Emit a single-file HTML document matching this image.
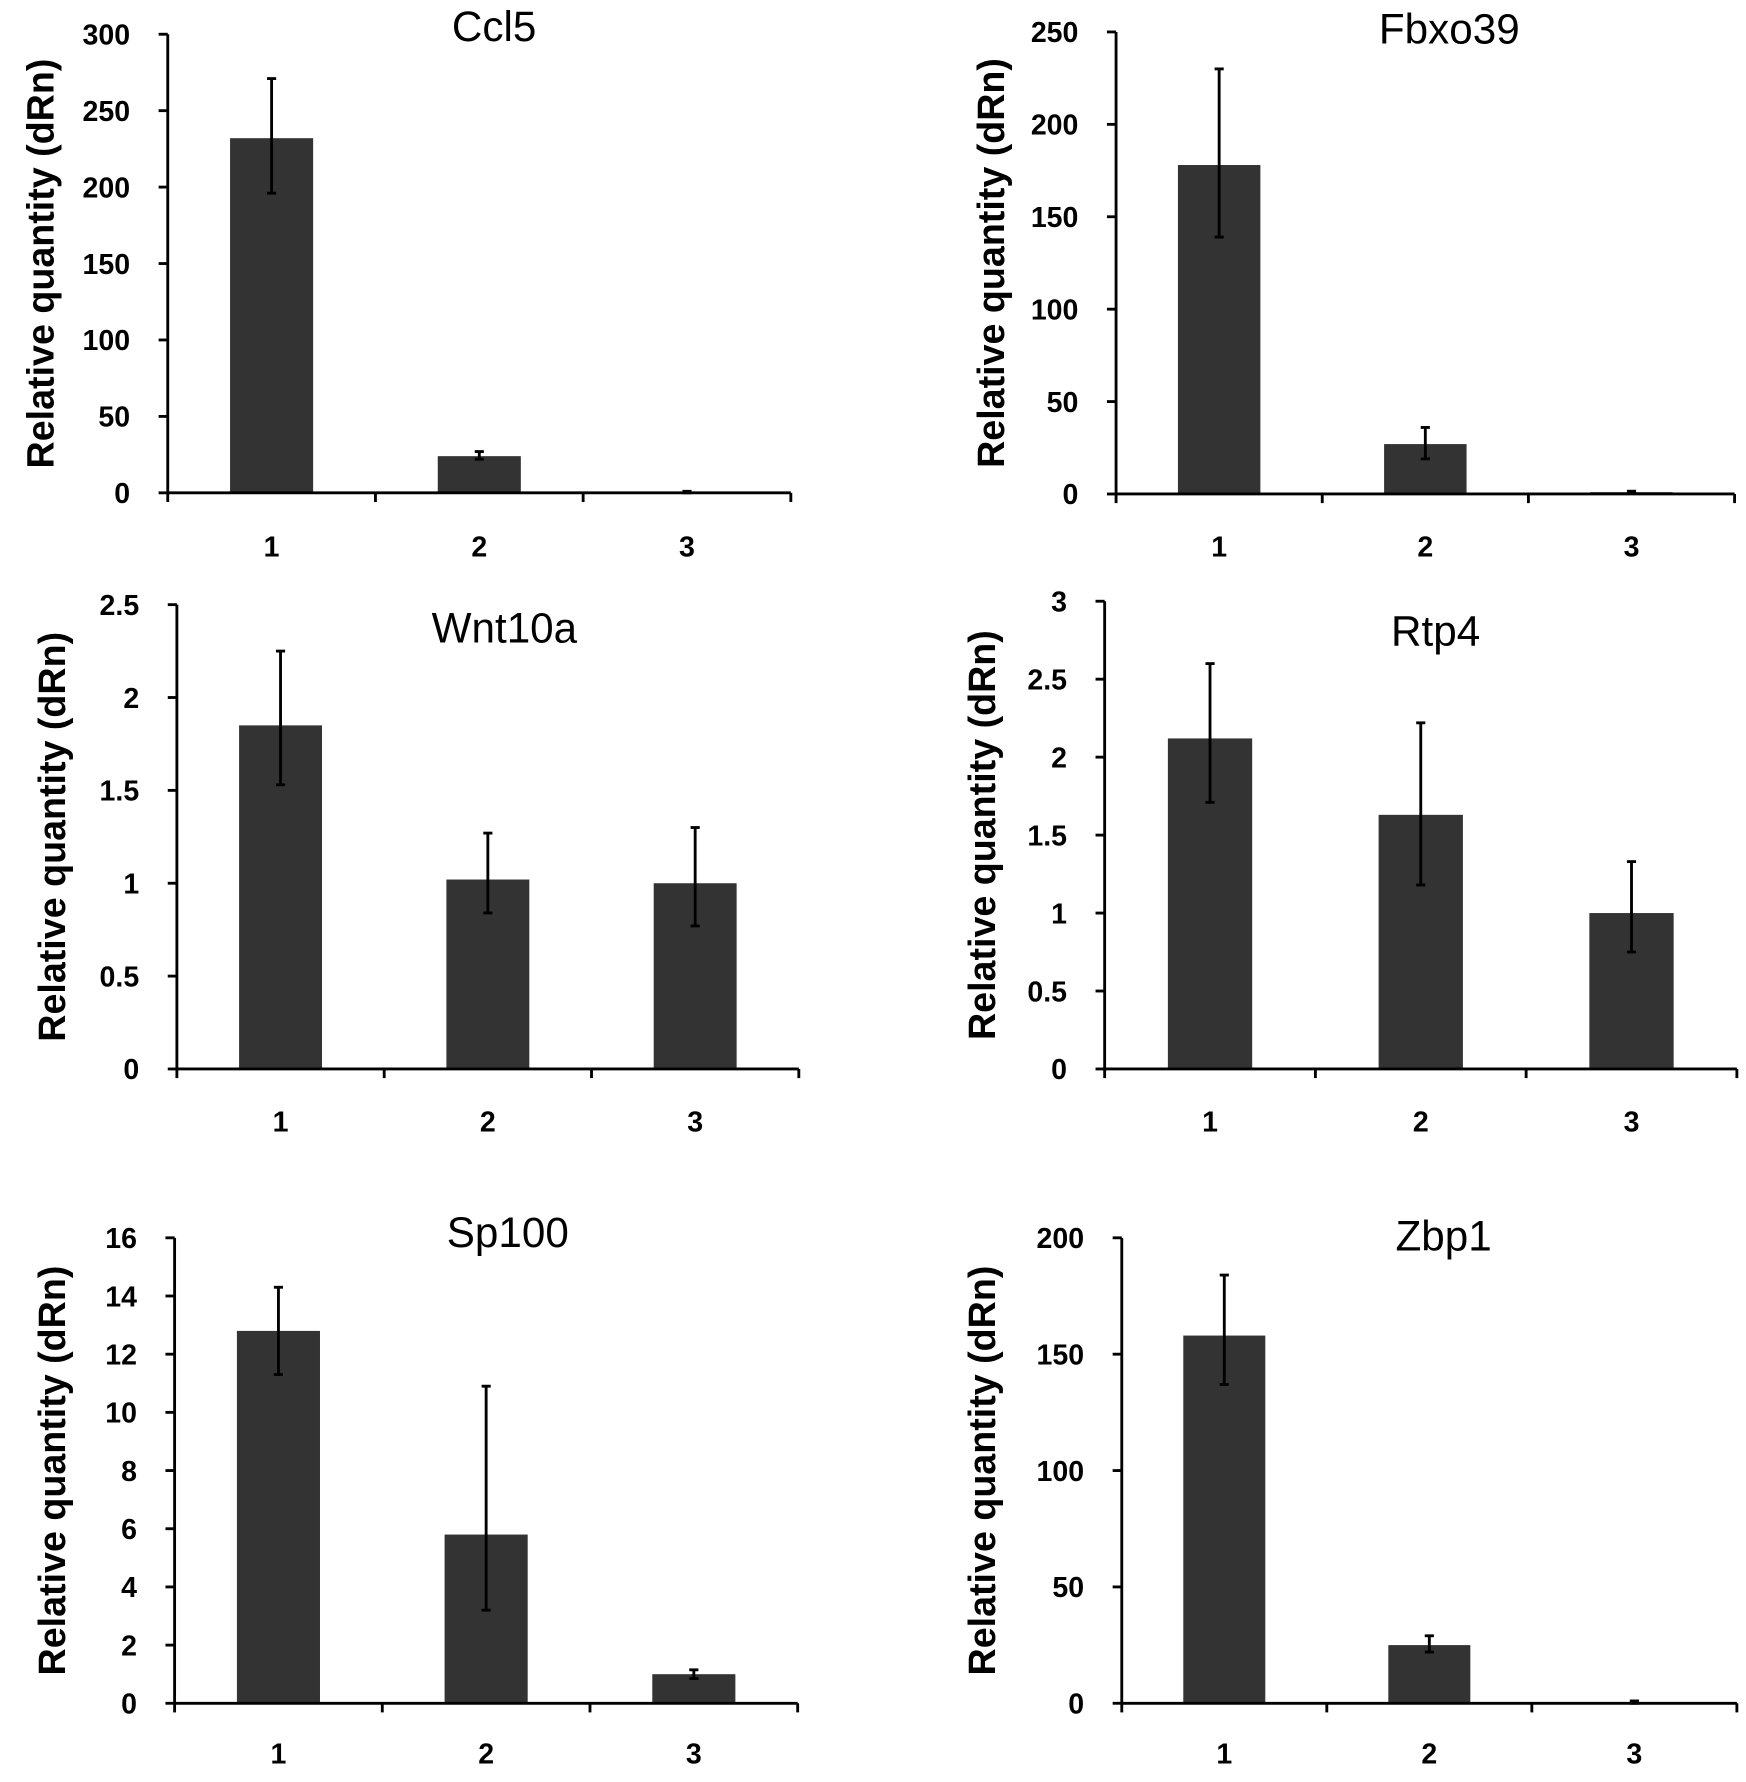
<!DOCTYPE html>
<html><head><meta charset="utf-8"><style>
html,body{margin:0;padding:0;background:#fff}
svg{display:block}
</style></head><body>
<svg id="fig" width="1746" height="1782" viewBox="0 0 1530 1562" preserveAspectRatio="none" xmlns="http://www.w3.org/2000/svg" font-family="Liberation Sans, Arial, sans-serif"></svg>
<script>
const titles=["Ccl5","Fbxo39","Wnt10a","Rtp4","Sp100","Zbp1"];
const categories=["1","2","3"];
const ccl5Values=[232,24,0.5], ccl5Lo=[196,22,0], ccl5Hi=[271,27,1];
const fbxo39Values=[178,27,1], fbxo39Lo=[139,19,0.5], fbxo39Hi=[230,36,1.5];
const wnt10aValues=[1.85,1.02,1.0], wnt10aLo=[1.53,0.84,0.77], wnt10aHi=[2.25,1.27,1.3];
const rtp4Values=[2.12,1.63,1.0], rtp4Lo=[1.71,1.18,0.75], rtp4Hi=[2.6,2.22,1.33];
const sp100Values=[12.8,5.8,1.0], sp100Lo=[11.3,3.2,0.85], sp100Hi=[14.3,10.9,1.15];
const zbp1Values=[158,25,0.5], zbp1Lo=[137,22,0], zbp1Hi=[184,29,1];
const ccl5Ticks=["0","50","100","150","200","250","300"];
const fbxo39Ticks=["0","50","100","150","200","250"];
const wnt10aTicks=["0","0.5","1","1.5","2","2.5"];
const rtp4Ticks=["0","0.5","1","1.5","2","2.5","3"];
const sp100Ticks=["0","2","4","6","8","10","12","14","16"];
const zbp1Ticks=["0","50","100","150","200"];

const panels=[
 {name:"ccl5",v:ccl5Values,lo:ccl5Lo,hi:ccl5Hi,t:ccl5Ticks,x0:147,x1:693,yTop:30,y0:432,tx:433,ty:36,ytx:35,xl:488},
 {name:"fbxo39",v:fbxo39Values,lo:fbxo39Lo,hi:fbxo39Hi,t:fbxo39Ticks,x0:978,x1:1520,yTop:28,y0:433,tx:1270,ty:38,ytx:868,xl:488},
 {name:"wnt10a",v:wnt10aValues,lo:wnt10aLo,hi:wnt10aHi,t:wnt10aTicks,x0:155,x1:700,yTop:530,y0:937,tx:442,ty:563,ytx:45,xl:992},
 {name:"rtp4",v:rtp4Values,lo:rtp4Lo,hi:rtp4Hi,t:rtp4Ticks,x0:968,x1:1522,yTop:527,y0:937,tx:1258,ty:566,ytx:860,xl:992},
 {name:"sp100",v:sp100Values,lo:sp100Lo,hi:sp100Hi,t:sp100Ticks,x0:153,x1:699,yTop:1085,y0:1493,tx:445,ty:1093,ytx:45,xl:1546},
 {name:"zbp1",v:zbp1Values,lo:zbp1Lo,hi:zbp1Hi,t:zbp1Ticks,x0:983,x1:1522,yTop:1085,y0:1493,tx:1265,ty:1096,ytx:860,xl:1546}
];
const svg=document.getElementById('fig');
const NS="http://www.w3.org/2000/svg";
function mk(tag,attrs,parent){const e=document.createElementNS(NS,tag);for(const k in attrs)e.setAttribute(k,attrs[k]);parent.appendChild(e);return e;}
panels.forEach((p,pi)=>{
 const g=mk('g',{},svg);
 
 
 const maxV=parseFloat(p.t[p.t.length-1]);
 const yS=v=>p.y0-(v/maxV)*(p.y0-p.yTop);
 const band=(p.x1-p.x0)/categories.length;
 const xS=i=>p.x0+band*(i+0.5);
 const bw=band*0.4;
 // bars
 p.v.forEach((v,i)=>{
  const r=mk('rect',{x:xS(i)-bw/2,y:yS(v),width:bw,height:p.y0-yS(v),fill:'#333'},g);
  
  
  const eb=mk('g',{stroke:'#000','stroke-width':2.5},g);
  
  
  mk('line',{x1:xS(i),x2:xS(i),y1:yS(p.lo[i]),y2:yS(p.hi[i])},eb);
  mk('line',{x1:xS(i)-4,x2:xS(i)+4,y1:yS(p.lo[i]),y2:yS(p.lo[i])},eb);
  mk('line',{x1:xS(i)-4,x2:xS(i)+4,y1:yS(p.hi[i]),y2:yS(p.hi[i])},eb);
 });
 // axes
 const ax=mk('g',{stroke:'#000','stroke-width':2.5},g);
 
 
 mk('line',{x1:p.x0,x2:p.x0,y1:p.yTop,y2:p.y0},ax);
 mk('line',{x1:p.x0,x2:p.x1,y1:p.y0,y2:p.y0},ax);
 for(let k=0;k<=categories.length;k++){const x=p.x0+band*k;mk('line',{x1:x,x2:x,y1:p.y0,y2:p.y0+8},ax);}
 p.t.forEach(t=>{
  const y=yS(parseFloat(t));
  mk('line',{x1:p.x0-8,x2:p.x0,y1:y,y2:y},ax);
  const tl=mk('text',{x:p.x0-33,y:y+9,'text-anchor':'end','font-size':25,'font-weight':'bold'},g);
  tl.textContent=t;
  
  
 });
 categories.forEach((c,i)=>{
  const xl=mk('text',{x:xS(i),y:p.xl,'text-anchor':'middle','font-size':25,'font-weight':'bold'},g);
  xl.textContent=c;
  
  
 });
 const tt=mk('text',{x:p.tx,y:p.ty,'text-anchor':'middle','font-size':37},g);
 tt.textContent=titles[pi];
 
 
 const yc=(p.yTop+p.y0)/2;
 const yt=mk('text',{x:p.ytx,y:yc,'text-anchor':'middle','font-size':33,'font-weight':'bold',transform:`rotate(-90 ${p.ytx} ${yc})`,dy:12},g);
 yt.textContent="Relative quantity (dRn)";
 
 
});
</script>
</body></html>
